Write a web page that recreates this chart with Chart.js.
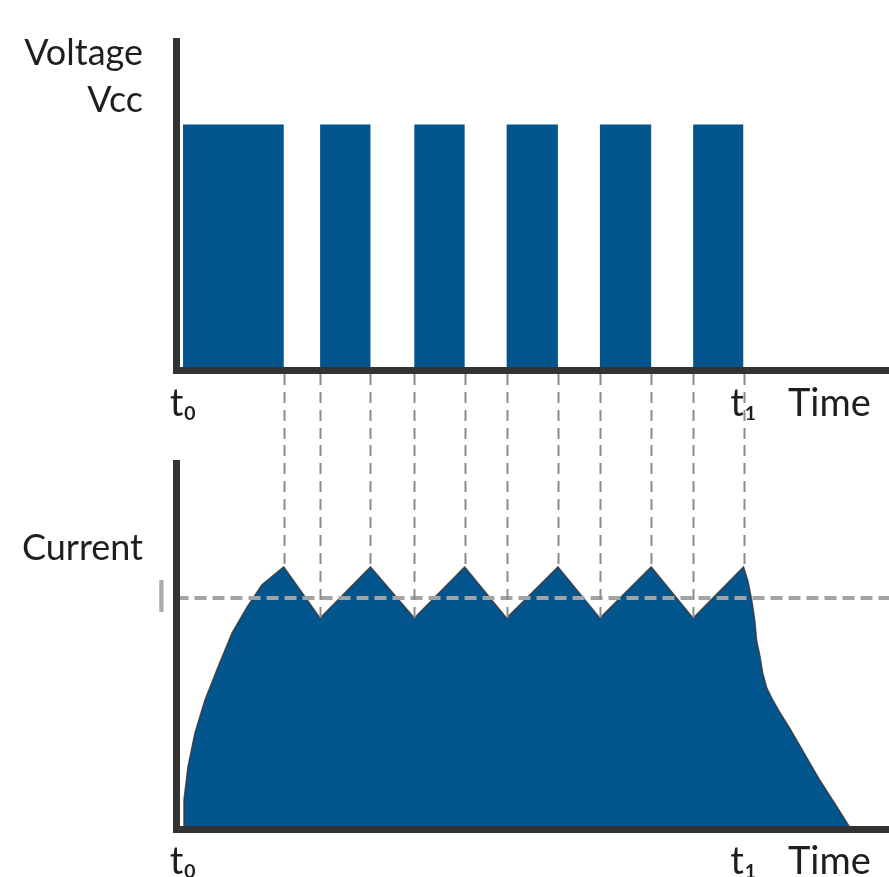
<!DOCTYPE html>
<html>
<head>
<meta charset="utf-8">
<script src="https://cdn.jsdelivr.net/npm/chart.js@4.4.1/dist/chart.umd.min.js"></script>
<style>
  html, body { margin: 0; padding: 0; background: #ffffff; }
  #wrap { position: relative; width: 889px; height: 877px; overflow: hidden; }
  #voltageBox { position: absolute; left: 0; top: 0; width: 889px; height: 445px; }
  #currentBox { position: absolute; left: 0; top: 445px; width: 889px; height: 432px; }
</style>
</head>
<body>
<div id="wrap">
  <div id="voltageBox"><canvas id="voltageChart" width="889" height="445"></canvas></div>
  <div id="currentBox"><canvas id="currentChart" width="889" height="432"></canvas></div>
</div>
<script>
// PWM pulses (time units, Vcc = 1)
const pulseStart = [0.7, 15.4, 25.5, 35.4, 45.4, 55.4];
const pulseEnd = [11.5, 20.8, 30.9, 40.9, 50.9, 60.8];
const vcc = 1;

// coil current
const currentTime = [0.7, 0.8, 1.23, 1.98, 3.05, 4.45, 5.95, 7.56, 9.16, 11.5,
  15.4, 20.8, 25.5, 30.9, 35.4, 40.9, 45.4, 50.9, 55.4, 60.8,
  61.25, 61.68, 62.0, 62.2, 62.54, 62.86, 63.29, 63.93, 64.68, 65.75,
  66.5, 67.36, 68.97, 70.69, 72.3];
const currentValue = [0, 0.79, 1.70, 2.63, 3.53, 4.43, 5.36, 6.07, 6.68, 7.17,
  5.77, 7.17, 5.77, 7.17, 5.77, 7.17, 5.77, 7.17, 5.77, 7.17,
  6.81, 6.27, 5.72, 5.17, 4.76, 4.27, 3.86, 3.53, 3.20, 2.76,
  2.43, 2.05, 1.34, 0.66, 0];
const currentRef = 6.32; // mean current "I"

// axis ticks
const xTickValues = [0.7, 60.8, 70];
const xTickLabels = ['t\u2080', 't\u2081', 'Time'];
const yTickLabel = 'I';

const timeMax = 76.4;
const blue = '#03558d';
const axisColor = '#333333';
const textColor = '#1e1e1e';
const fontFamily = 'Lato, "Open Sans", sans-serif';

// guide lines at every switching edge except t0
const guideTimes = pulseEnd.concat(pulseStart.slice(1));

function currentAt(t) {
  const i = currentTime.indexOf(t);
  return i >= 0 ? currentValue[i] : 0;
}

function xAxisOptions(axisHeight) {
  return {
    type: 'linear',
    min: 0,
    max: timeMax,
    grid: { display: false, drawTicks: false },
    border: { display: true, width: 7, color: axisColor, z: 1 },
    ticks: {
      autoSkip: false,
      maxRotation: 0,
      padding: 10,
      color: textColor,
      font: { family: fontFamily, size: 38 },
      callback: (v, i) => xTickLabels[i]
    },
    afterBuildTicks: (scale) => {
      scale.ticks = xTickValues.map(v => ({ value: v }));
    },
    afterFit: (scale) => { scale.height = axisHeight; }
  };
}

// dashed verticals, drawn from scale pixels
const guidePlugin = {
  id: 'guides',
  afterDatasetsDraw(chart, args, opts) {
    const ctx = chart.ctx;
    const xs = chart.scales.x;
    const ys = chart.scales.y;
    ctx.save();
    ctx.strokeStyle = '#8c8c8c';
    ctx.lineWidth = 2;
    ctx.setLineDash([11, 7]);
    guideTimes.forEach(t => {
      const px = Math.round(xs.getPixelForValue(t)) + 0.5;
      let y1, y2;
      if (opts.part === 'top') {
        y1 = chart.chartArea.bottom + 3.5;
        y2 = chart.height;
      } else {
        y1 = 0;
        y2 = ys.getPixelForValue(currentAt(t));
      }
      ctx.beginPath();
      ctx.moveTo(px, y1);
      ctx.lineTo(px, y2);
      ctx.stroke();
    });
    ctx.restore();
  }
};

const titlePlugin = {
  id: 'titles',
  afterDraw(chart, args, opts) {
    const ctx = chart.ctx;
    ctx.save();
    ctx.font = '36px ' + fontFamily;
    ctx.fillStyle = textColor;
    ctx.textAlign = 'right';
    ctx.textBaseline = 'alphabetic';
    opts.lines.forEach(l => ctx.fillText(l.text, 143, l.y));
    ctx.restore();
  }
};

// y axis: fixed width, no extra room for tick label overhang
function yAfterFit(scale) {
  scale.width = 176.5;
  scale.paddingTop = 0;
  scale.paddingBottom = 0;
}

// voltage pulses as a filled step line
const pulsePoints = [];
pulseStart.forEach((s, i) => {
  pulsePoints.push({ x: s, y: 0 }, { x: s, y: vcc }, { x: pulseEnd[i], y: vcc }, { x: pulseEnd[i], y: 0 });
});

new Chart(document.getElementById('voltageChart'), {
  type: 'line',
  data: {
    datasets: [{
      label: 'Voltage',
      data: pulsePoints,
      borderWidth: 0,
      borderColor: blue,
      backgroundColor: blue,
      fill: 'origin',
      pointRadius: 0,
      tension: 0
    }]
  },
  options: {
    responsive: false,
    devicePixelRatio: 1,
    animation: false,
    layout: { padding: { top: 41, left: 0, right: 0, bottom: 0 } },
    plugins: {
      legend: { display: false },
      tooltip: { enabled: false },
      guides: { part: 'top' },
      titles: { lines: [{ text: 'Voltage', y: 65 }, { text: 'Vcc', y: 112 }] }
    },
    scales: {
      x: xAxisOptions(74.5),
      y: {
        min: 0,
        max: 1.34,
        grid: { display: false, drawTicks: false },
        border: { display: true, width: 7, color: axisColor, z: 1 },
        ticks: { display: false },
        afterFit: yAfterFit
      }
    }
  },
  plugins: [guidePlugin, titlePlugin]
});

new Chart(document.getElementById('currentChart'), {
  type: 'line',
  data: {
    datasets: [{
      label: 'I',
      data: [{ x: 0, y: currentRef }, { x: timeMax, y: currentRef }],
      borderColor: '#a3a3a3',
      borderWidth: 4,
      borderDash: [12, 6],
      pointRadius: 0,
      fill: false
    }, {
      label: 'Current',
      data: currentTime.map((t, i) => ({ x: t, y: currentValue[i] })),
      borderColor: 'rgba(55, 50, 50, 0.8)',
      borderWidth: 1.5,
      backgroundColor: blue,
      fill: 'origin',
      pointRadius: 0,
      tension: 0
    }]
  },
  options: {
    responsive: false,
    devicePixelRatio: 1,
    animation: false,
    layout: { padding: { top: 18.5, left: 0, right: 0, bottom: 0 } },
    plugins: {
      legend: { display: false },
      tooltip: { enabled: false },
      guides: { part: 'bottom' },
      titles: { lines: [{ text: 'Current', y: 115 }] }
    },
    scales: {
      x: xAxisOptions(48),
      y: {
        min: 0,
        max: 10,
        grid: { display: false, drawTicks: false },
        border: { display: true, width: 7, color: axisColor, z: 1 },
        ticks: {
          padding: 9,
          color: '#ababab',
          font: { family: fontFamily, size: 44 },
          callback: () => yTickLabel
        },
        afterBuildTicks: (scale) => { scale.ticks = [{ value: currentRef }]; },
        afterFit: yAfterFit
      }
    }
  },
  plugins: [guidePlugin, titlePlugin]
});
</script>
</body>
</html>
